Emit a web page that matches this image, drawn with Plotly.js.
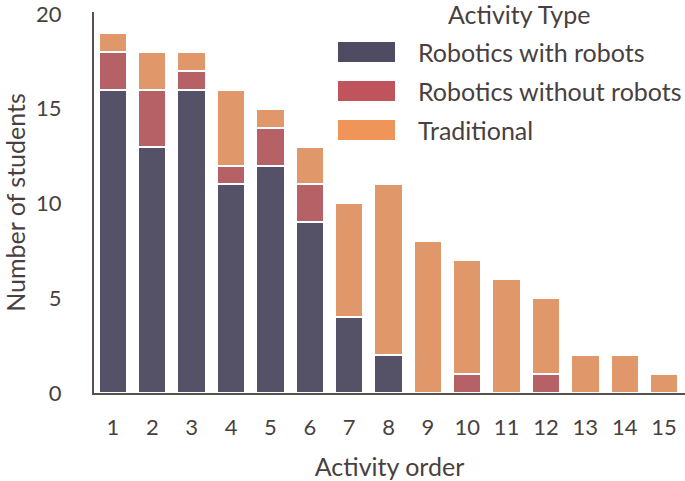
<!DOCTYPE html>
<html>
<head>
<meta charset="utf-8">
<script src="https://cdn.plot.ly/plotly-3.0.1.min.js"></script>
<style>
  body { margin: 0; background: #fff; }
  #plotArea { width: 685px; height: 481px; }
</style>
</head>
<body>
<div id="plotArea"></div>
<script>
// activity order 1..15
var order = [1, 2, 3, 4, 5, 6, 7, 8, 9, 10, 11, 12, 13, 14, 15];

// students per activity type
var withRobots    = [16, 13, 16, 11, 12, 9, 4, 2, 0, 0, 0, 0, 0, 0, 0];
var withoutRobots = [2, 3, 1, 1, 2, 2, 0, 0, 0, 1, 0, 1, 0, 0, 0];
var traditional   = [1, 2, 1, 4, 1, 2, 6, 9, 8, 6, 6, 4, 2, 2, 1];

var seriesNames = ["Robotics with robots", "Robotics without robots", "Traditional"];
var barColors = ["#555166", "#b56166", "#e0976a"];
var keyColors = ["#4f4b63", "#c0545c", "#f0955a"];

var yTicks = [0, 5, 10, 15, 20];

var textColor = "#4a3f3f";
var font = "Lato, 'DejaVu Sans', sans-serif";

var values = [withRobots, withoutRobots, traditional];
var data = values.map(function (v, i) {
    return {
        x: order,
        y: v,
        name: seriesNames[i],
        type: "bar",
        width: 0.72,
        marker: {color: barColors[i], line: {color: "#ffffff", width: 2}},
        showlegend: false
    };
});

// legend drawn by hand so the swatches can be large
var shapes = [];
var annotations = [];
var L = 94, W = 591, B = 393, H = 381;
function px(x) { return (x - L) / W; }
function py(y) { return (B - y) / H; }
var rowY = [52, 91, 130];
seriesNames.forEach(function (n, i) {
    shapes.push({
        type: "rect", xref: "paper", yref: "paper",
        x0: px(338), x1: px(395), y0: py(rowY[i] + 10), y1: py(rowY[i] - 10),
        fillcolor: keyColors[i], line: {width: 0}
    });
    annotations.push({
        xref: "paper", yref: "paper", x: px(416), y: py(rowY[i]),
        xanchor: "left", yanchor: "middle", text: n, showarrow: false,
        font: {family: font, size: 25, color: textColor}
    });
});
annotations.push({
    xref: "paper", yref: "paper", x: px(519), y: py(14),
    xanchor: "center", yanchor: "middle", text: "Activity Type", showarrow: false,
    font: {family: font, size: 25, color: textColor}
});

var layout = {
    width: 685,
    height: 481,
    margin: {l: 94, r: 0, t: 12, b: 88},
    barmode: "stack",
    paper_bgcolor: "#ffffff",
    plot_bgcolor: "#ffffff",
    font: {family: font, size: 22, color: textColor},
    xaxis: {
        title: {text: "Activity order", font: {size: 25}, standoff: 22},
        range: [0.52, 15.53],
        tickvals: order,
        ticktext: order.map(String),
        showgrid: false,
        zeroline: false,
        showline: true,
        linecolor: "#5a4f4f",
        linewidth: 2,
        ticks: "",
        ticklabelstandoff: 14,
        tickfont: {size: 22},
        fixedrange: true
    },
    yaxis: {
        title: {text: "Number of students", font: {size: 25}, standoff: 16},
        range: [0, 20.1],
        tickvals: yTicks,
        showgrid: false,
        zeroline: false,
        showline: true,
        linecolor: "#5a4f4f",
        linewidth: 2,
        ticks: "",
        ticklabelstandoff: 26,
        ticklabeloverflow: "allow",
        tickfont: {size: 22},
        fixedrange: true
    },
    shapes: shapes,
    annotations: annotations
};

Plotly.newPlot("plotArea", data, layout, {displayModeBar: false, staticPlot: true});
</script>
</body>
</html>
